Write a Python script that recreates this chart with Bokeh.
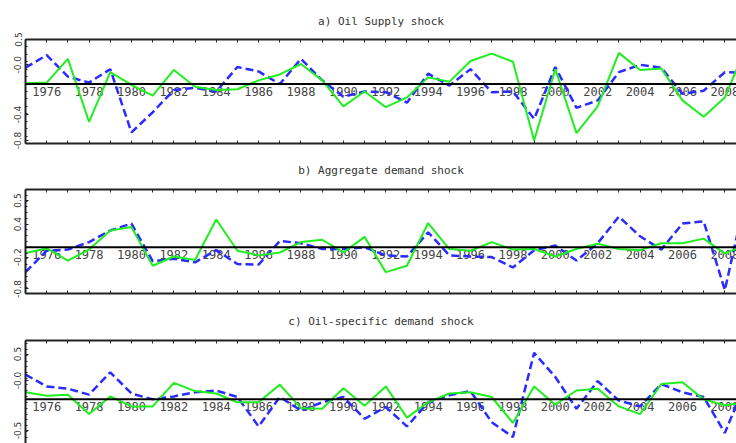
from bokeh.plotting import figure
from bokeh.models import FixedTicker, LinearAxis, Span, Range1d
from bokeh.layouts import column
from bokeh.embed import file_html
from bokeh.resources import INLINE
from bokeh.core.properties import value

years = list(range(1975, 2010))
label_years = list(range(1976, 2010, 2))
label_text = [str(y) for y in label_years]

titles = ["a) Oil Supply shock", "b) Aggregate demand shock", "c) Oil-specific demand shock"]

supply_green = [0.01, 0.02, 0.34, -0.51, 0.16, -0.01, -0.155, 0.19, -0.035, -0.08,
                -0.07, 0.05, 0.13, 0.27, 0.05, -0.30, -0.10, -0.31, -0.18, 0.09,
                0.03, 0.31, 0.41, 0.30, -0.76, 0.20, -0.66, -0.30, 0.42, 0.19,
                0.21, -0.22, -0.44, -0.18, 0.50]
supply_blue = [0.22, 0.39, 0.10, 0.02, 0.20, -0.65, -0.38, -0.08, -0.05, -0.10,
               0.23, 0.17, 0.00, 0.34, 0.05, -0.17, -0.10, -0.11, -0.25, 0.14,
               -0.02, 0.20, -0.11, -0.10, -0.47, 0.23, -0.32, -0.22, 0.16, 0.26,
               0.22, -0.13, -0.09, 0.16, 0.15]

aggregate_green = [-0.10, -0.02, -0.23, -0.04, 0.29, 0.35, -0.32, -0.16, -0.22, 0.48,
                   -0.06, -0.14, -0.09, 0.09, 0.13, -0.09, 0.18, -0.43, -0.32, 0.42,
                   -0.03, -0.06, 0.09, -0.04, -0.03, -0.16, -0.03, 0.06, -0.03, -0.05,
                   0.07, 0.07, 0.15, -0.11, 0.05]
aggregate_blue = [-0.43, -0.06, -0.04, 0.09, 0.29, 0.41, -0.24, -0.20, -0.26, -0.05,
                  -0.29, -0.30, 0.11, 0.07, -0.03, -0.03, 0.00, -0.14, -0.16, 0.26,
                  -0.14, -0.16, -0.17, -0.35, -0.05, 0.03, -0.23, 0.07, 0.53, 0.19,
                  -0.04, 0.41, 0.45, -0.74, 0.90]

specific_green = [0.12, 0.06, 0.08, -0.25, 0.05, -0.12, -0.12, 0.28, 0.14, 0.10,
                  -0.05, -0.05, 0.25, -0.15, -0.16, 0.19, -0.11, 0.22, -0.31, -0.05,
                  0.10, 0.12, 0.04, -0.40, 0.22, -0.09, 0.15, 0.18, -0.12, -0.25,
                  0.26, 0.29, 0.00, -0.10, -0.05]
specific_blue = [0.42, 0.22, 0.18, 0.08, 0.46, 0.10, 0.00, 0.05, 0.12, 0.15,
                 0.04, -0.46, 0.04, -0.19, -0.05, 0.04, -0.33, -0.13, -0.46, -0.05,
                 0.07, 0.14, -0.39, -0.64, 0.79, 0.38, -0.16, 0.31, -0.02, -0.12,
                 0.26, 0.12, 0.04, -0.57, 0.30]

y_ranges = [(-0.8, 0.6), (-0.8, 1.0), (-0.75, 1.0)]
ytick_pos = [[0.6, 0.26, -0.41, -0.76], [0.81, 0.40, -0.17, -0.72], [0.77, 0.32, -0.53]]
ytick_txt = [["0.5", "-0.0", "-0.4", "-0.8"], ["0.5", "0.4", "-0.2", "-0.8"], ["0.5", "-0.0", "-0.5"]]

series = [(supply_green, supply_blue), (aggregate_green, aggregate_blue), (specific_green, specific_blue)]

GREEN = "#1fee1f"
BLUE = "#2a2cff"
INK = "#222222"

frame_h = [104, 104, 103]
top_b = [39, 40, 41]
bot_b = [6, 6, 0]
title_standoff = [24, 25, 26]


def tick_axis():
    return LinearAxis(ticker=FixedTicker(ticks=years),
                      major_label_overrides={y: "" for y in years},
                      major_label_text_color=None,
                      major_label_text_font_size="1px", major_label_standoff=0,
                      major_tick_in=3, major_tick_out=0,
                      minor_tick_in=0, minor_tick_out=0,
                      axis_line_color=INK, axis_line_width=2,
                      major_tick_line_color=INK)


figs = []
for i in range(3):
    g, b = series[i]
    lo, hi = y_ranges[i]
    p = figure(frame_width=711, frame_height=frame_h[i],
               x_range=Range1d(1975, 2008.55), y_range=Range1d(lo, hi),
               x_axis_location=None, y_axis_location=None,
               output_backend="svg", toolbar_location=None,
               min_border_left=25, min_border_right=0,
               min_border_top=top_b[i], min_border_bottom=bot_b[i],
               title=titles[i])
    p.grid.grid_line_color = None
    p.outline_line_color = None
    p.background_fill_color = "white"
    p.border_fill_color = "white"
    p.title.align = "center"
    p.title.offset = 4.5
    p.title.text_font = "DejaVu Sans Mono"
    p.title.text_font_size = "11px"
    p.title.text_font_style = "normal"
    p.title.text_color = "#333333"
    p.title.standoff = title_standoff[i]

    # left axis
    minors = [round(lo + 0.1 * k, 2) for k in range(int(round((hi - lo) / 0.1)) + 1)]
    ly = LinearAxis(ticker=FixedTicker(ticks=ytick_pos[i], minor_ticks=minors),
                    major_label_overrides={float(t): s for t, s in zip(ytick_pos[i], ytick_txt[i])},
                    major_label_orientation="vertical",
                    major_label_text_font="DejaVu Sans",
                    major_label_text_font_size="9px",
                    major_label_text_color="#333333",
                    major_label_standoff=4,
                    major_tick_in=3, major_tick_out=0,
                    minor_tick_in=2, minor_tick_out=0,
                    axis_line_color=INK, axis_line_width=2,
                    major_tick_line_color=INK, minor_tick_line_color=INK)
    p.add_layout(ly, "left")

    p.add_layout(tick_axis(), "above")
    if i < 2:
        p.add_layout(tick_axis(), "below")

    p.add_layout(Span(location=0, dimension="width", line_color="black", line_width=2))
    p.text(x=label_years, y=[0] * len(label_years), text=label_text,
           text_font=value("DejaVu Sans Mono"), text_font_size="12px",
           text_color="#444444", text_align="center", text_baseline="middle",
           y_offset=7)
    p.line(years, b, line_color=BLUE, line_width=2.5, line_dash="8 4")
    p.line(years, g, line_color=GREEN, line_width=2)
    figs.append(p)

layout = column(*figs, spacing=0)
open("out.html", "w").write(file_html(layout, INLINE))
